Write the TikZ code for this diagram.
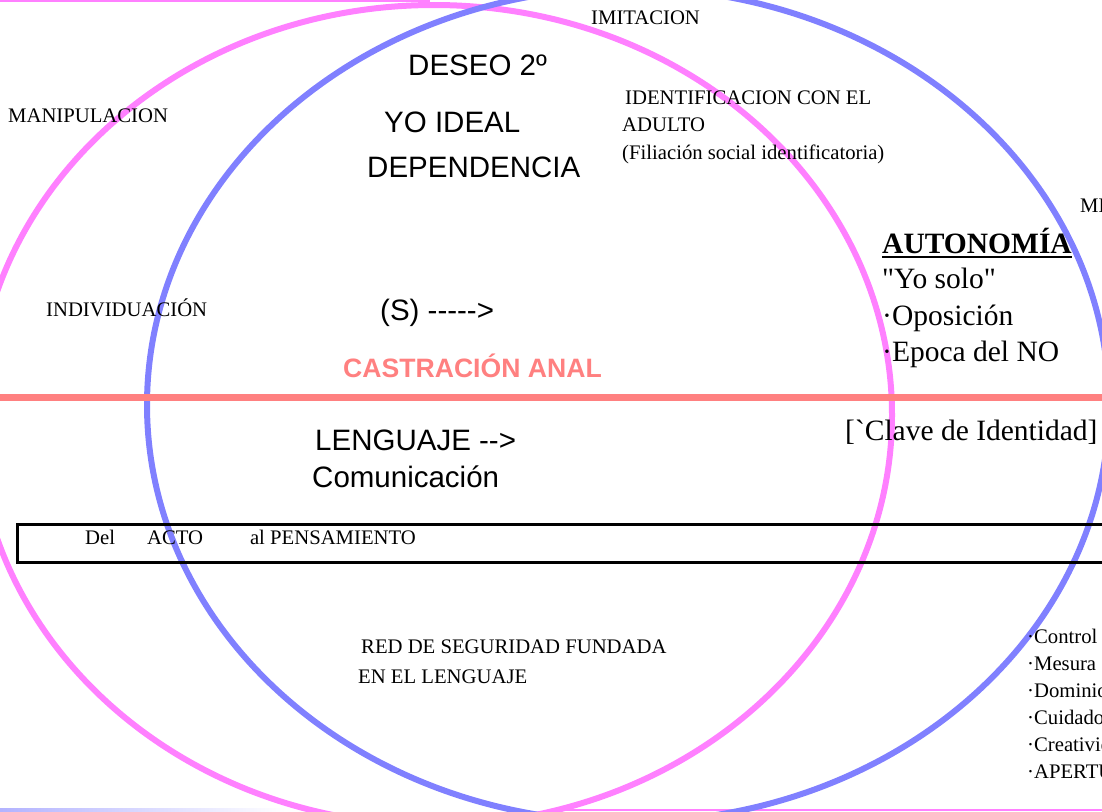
\documentclass[tikz,border=0pt]{standalone}
\usepackage{fontspec}
\setmainfont{Liberation Serif}
\setsansfont{Liberation Sans}
\definecolor{pinkc}{HTML}{FF80FF}
\definecolor{bluec}{HTML}{8080FF}
\definecolor{redc}{HTML}{FF8080}
\newcommand\hy{-\kern0pt}
\newcommand\gravechar{{\XeTeXglyph\XeTeXcharglyph"60}}
\newcommand\straightquote{{\XeTeXglyph\XeTeXcharglyph"22}}
\begin{document}
\begin{tikzpicture}[x=1pt,y=-1pt,
  ser/.style={anchor=base west, inner sep=0pt, font=\fontsize{20.7}{25}\selectfont},
  serbig/.style={anchor=base west, inner sep=0pt, font=\fontsize{29.5}{35}\selectfont},
  sansbig/.style={anchor=base west, inner sep=0pt, font=\sffamily\fontsize{29.5}{35}\selectfont},
  ring/.style={line width=6pt}]
\useasboundingbox (0,0) rectangle (1102,811);
\clip (0,0) rectangle (1102,811);
% edge lines
\draw[pinkc, line width=2.5pt] (0,1) -- (430,1);
\shade[left color=bluec!60, right color=white] (0,808) rectangle (285,811);
\draw[pinkc, line width=2pt] (560,810) -- (1102,810);
% ellipses
\draw[pinkc, ring] (434,415) ellipse [x radius=458pt, y radius=410pt];
\draw[bluec, ring] (628,405) ellipse [x radius=481pt, y radius=417pt];
% red divider
\coordinate (rl) at (0,397);
\coordinate (rr) at (1102,397);
\draw[redc, line width=7pt] (rl) -- (rr);
% box
\draw[black, line width=3pt] (17,524) rectangle (1130,562);
% texts
\node[ser] (imit) at (591,24) {IMITACION};
\node[ser] (manip) at (8,122) {MANIPULACION};
\node[ser] (ident1) at (625,104) {IDENTIFICACION CON EL};
\node[ser] (ident2) at (622,131) {ADULTO};
\node[ser] (ident3) at (622,159) {(Filiación social identificatoria)};
\node[ser] (me) at (1080,212) {ME};
\node[ser] (indiv) at (46,316) {INDIVIDUACIÓN};
\node[sansbig] (deseo) at (408,75) {DESEO 2º};
\node[sansbig] (yoideal) at (384,132) {YO IDEAL};
\node[sansbig] (depend) at (367,177) {DEPENDENCIA};
\node[sansbig] (sujeto) at (380,320) {(S) \hy\hy\hy\hy\hy>};
\node[anchor=base west, inner sep=0pt, text=redc, font=\sffamily\bfseries\fontsize{26.6}{32}\selectfont] (castr) at (343,377) {CASTRACIÓN ANAL};
\node[sansbig] (leng) at (315,450) {LENGUAJE \hy\hy>};
\node[sansbig] (comun) at (312,487) {Comunicación};
\node[serbig, font=\bfseries\fontsize{29.5}{35}\selectfont] (autonomia) at (882,253) {AUTONOMÍA};
\draw[black, line width=2pt] ([yshift=-4pt]autonomia.base west) -- ([yshift=-4pt]autonomia.base east);
\node[serbig] (yosolo) at (882,288) {\straightquote Yo solo\straightquote};
\node[serbig] (opos) at (882,325) {·Oposición};
\node[serbig] (epoca) at (882,361) {·Epoca del NO};
\node[serbig] (clave) at (845,440) {[\gravechar Clave de Identidad]};
\node[ser] (acto) at (85,544) {Del\hspace{32pt}ACTO\hspace{47pt}al PENSAMIENTO};
\node[ser] (red1) at (361,653) {RED DE SEGURIDAD FUNDADA};
\node[ser] (red2) at (358,683) {EN EL LENGUAJE};
\node[ser] (l1) at (1027,643) {·Control de};
\node[ser] (l2) at (1027,670) {·Mesura};
\node[ser] (l3) at (1027,697) {·Dominio};
\node[ser] (l4) at (1027,724) {·Cuidado};
\node[ser] (l5) at (1027,751) {·Creatividad};
\node[ser] (l6) at (1027,778) {·APERTURA};
\end{tikzpicture}
\end{document}
